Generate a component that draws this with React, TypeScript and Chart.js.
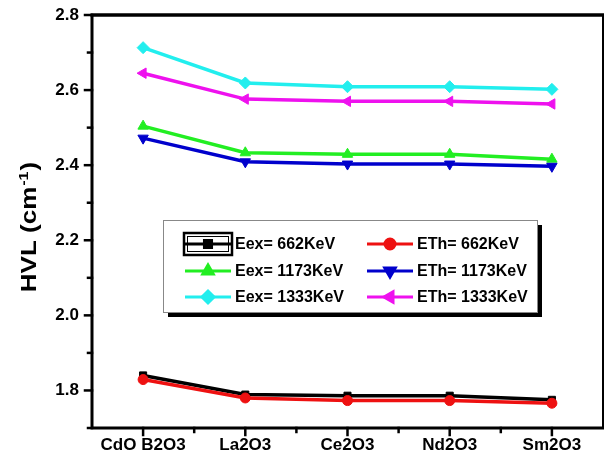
import React, { useEffect, useRef } from "react";
import { Chart, registerables } from "chart.js";
import { drawPoint } from "chart.js/helpers";

Chart.register(...registerables);

const categories = ["CdO B2O3", "La2O3", "Ce2O3", "Nd2O3", "Sm2O3"];
const eex662 = [1.840, 1.789, 1.786, 1.786, 1.775];
const eth662 = [1.829, 1.780, 1.773, 1.773, 1.766];
const eex1173 = [2.504, 2.433, 2.429, 2.429, 2.416];
const eth1173 = [2.472, 2.409, 2.403, 2.403, 2.397];
const eex1333 = [2.713, 2.619, 2.609, 2.609, 2.602];
const eth1333 = [2.645, 2.576, 2.570, 2.570, 2.563];
const yTicks = [1.8, 2.0, 2.2, 2.4, 2.6, 2.8];
const yMinorTicks = [1.7, 1.9, 2.1, 2.3, 2.5, 2.7];

const seriesLabels = [
  "Eex= 662KeV",
  "ETh= 662KeV",
  "Eex= 1173KeV",
  "ETh= 1173KeV",
  "Eex= 1333KeV",
  "ETh= 1333KeV",
];
const seriesData = [eex662, eth662, eex1173, eth1173, eex1333, eth1333];
const seriesColors = ["#000000", "#ee1111", "#22ee22", "#0000cc", "#22eeee", "#ee11ee"];
const seriesStyles = ["rect", "circle", "triangle", "triangle", "rectRot", "triangle"];
const seriesRotation = [0, 0, 0, 180, 0, -90];
const seriesRadius = [5, 5, 6, 6, 6, 6];

const FONT = "'Liberation Sans', Arial, sans-serif";

const framePlugin = {
  id: "frame",
  afterDraw(chart: any) {
    const { ctx, chartArea } = chart;
    const xs = chart.scales.x;
    const ys = chart.scales.y;
    const { left, right, top, bottom } = chartArea;
    ctx.save();
    ctx.strokeStyle = "#000";
    ctx.lineCap = "square";
    // ticks
    ctx.lineWidth = 2.5;
    yTicks.forEach((v) => {
      const p = ys.getPixelForValue(v);
      ctx.beginPath();
      ctx.moveTo(left - 7, p);
      ctx.lineTo(left, p);
      ctx.stroke();
    });
    yMinorTicks.forEach((v) => {
      const p = ys.getPixelForValue(v);
      ctx.beginPath();
      ctx.moveTo(left - 4, p);
      ctx.lineTo(left, p);
      ctx.stroke();
    });
    categories.forEach((_, i) => {
      const p = xs.getPixelForValue(i);
      ctx.beginPath();
      ctx.moveTo(p, bottom);
      ctx.lineTo(p, bottom + 7);
      ctx.stroke();
    });
    for (let i = 0; i < categories.length - 1; i++) {
      const p = (xs.getPixelForValue(i) + xs.getPixelForValue(i + 1)) / 2;
      ctx.beginPath();
      ctx.moveTo(p, bottom);
      ctx.lineTo(p, bottom + 4);
      ctx.stroke();
    }
    // frame
    ctx.lineCap = "butt";
    ctx.lineWidth = 3.5;
    ctx.beginPath();
    ctx.moveTo(left - 1.5, top);
    ctx.lineTo(right + 1, top);
    ctx.stroke();
    ctx.lineWidth = 3;
    ctx.beginPath();
    ctx.moveTo(left, top);
    ctx.lineTo(left, bottom + 1.5);
    ctx.moveTo(left - 1.5, bottom);
    ctx.lineTo(right + 1, bottom);
    ctx.stroke();
    ctx.lineWidth = 2;
    ctx.beginPath();
    ctx.moveTo(right, top);
    ctx.lineTo(right, bottom);
    ctx.stroke();

    // y title
    ctx.save();
    ctx.translate(36, 227);
    ctx.rotate(-Math.PI / 2);
    ctx.scale(1, 0.82);
    ctx.fillStyle = "#000";
    ctx.textBaseline = "alphabetic";
    ctx.textAlign = "left";
    const big = `bold 26px ${FONT}`;
    const small = `bold 16px ${FONT}`;
    ctx.font = big;
    const w1 = ctx.measureText("HVL (cm").width;
    const w3 = ctx.measureText(")").width;
    ctx.font = small;
    const w2 = ctx.measureText("-1").width;
    const total = w1 + w2 + w3 + 2;
    let x = -total / 2;
    ctx.font = big;
    ctx.fillText("HVL (cm", x, 0);
    x += w1 + 1;
    ctx.font = small;
    ctx.fillText("-1", x, -10);
    x += w2 + 1;
    ctx.font = big;
    ctx.fillText(")", x, 0);
    ctx.restore();

    // legend
    const bx = left + 71;
    const by = top + 205;
    const bw = 374;
    const bh = 92;
    ctx.fillStyle = "#000";
    ctx.fillRect(bx + 5, by + 5, bw, bh);
    ctx.fillStyle = "#fff";
    ctx.fillRect(bx, by, bw, bh);
    ctx.strokeStyle = "#888";
    ctx.lineWidth = 1;
    ctx.strokeRect(bx + 0.5, by + 0.5, bw, bh);
    const rowY = [by + 24, by + 51, by + 77];
    const colX = [bx + 22, bx + 204];
    seriesLabels.forEach((label, i) => {
      const col = i % 2;
      const row = Math.floor(i / 2);
      const x0 = colX[col];
      const y0 = rowY[row];
      ctx.strokeStyle = seriesColors[i];
      ctx.lineWidth = 3;
      ctx.beginPath();
      ctx.moveTo(x0, y0);
      ctx.lineTo(x0 + 46, y0);
      ctx.stroke();
      ctx.fillStyle = seriesColors[i];
      drawPoint(
        ctx,
        {
          pointStyle: seriesStyles[i],
          radius: seriesRadius[i],
          rotation: seriesRotation[i],
          borderWidth: 1,
        },
        x0 + 23,
        y0
      );
      ctx.fillStyle = "#000";
      ctx.font = `bold 16px ${FONT}`;
      ctx.textBaseline = "middle";
      ctx.textAlign = "left";
      ctx.fillText(label, x0 + 50, y0 + 1);
      if (i === 0) {
        ctx.strokeStyle = "#000";
        ctx.lineWidth = 2.5;
        ctx.strokeRect(x0 - 1, y0 - 11, 48, 22);
        ctx.lineWidth = 1;
        ctx.strokeRect(x0 + 2.5, y0 - 7.5, 41, 15);
      }
    });
    ctx.restore();
  },
};

export default function App() {
  const ref = useRef<HTMLCanvasElement>(null);
  useEffect(() => {
    const canvas = ref.current;
    if (!canvas) return;
    const chart = new Chart(canvas, {
      type: "line",
      data: {
        labels: categories,
        datasets: seriesData.map((d, i) => ({
          label: seriesLabels[i],
          data: d,
          borderColor: seriesColors[i],
          backgroundColor: seriesColors[i],
          borderWidth: 3.5,
          pointStyle: seriesStyles[i] as any,
          pointRotation: seriesRotation[i],
          pointRadius: seriesRadius[i],
          pointBorderWidth: 1,
          tension: 0,
          fill: false,
          order: 6 - i,
        })),
      },
      options: {
        responsive: false,
        animation: false,
        devicePixelRatio: 1,
        layout: { padding: { top: 15, right: 2, left: 0, bottom: 0 } },
        plugins: {
          legend: { display: false },
          tooltip: { enabled: false },
        },
        scales: {
          x: {
            type: "category",
            offset: true,
            grid: { display: false, drawTicks: false },
            border: { display: false },
            ticks: {
              color: "#000",
              font: { family: FONT, size: 17, weight: "bold" },
              padding: 7,
              maxRotation: 0,
              autoSkip: false,
            },
            afterFit: (s: any) => {
              s.height = 38;
              s.paddingLeft = 0;
              s.paddingRight = 0;
            },
          },
          y: {
            type: "linear",
            min: 1.7,
            max: 2.8,
            grid: { display: false, drawTicks: false },
            border: { display: false },
            afterBuildTicks: (s: any) => {
              s.ticks = yTicks.map((v) => ({ value: v }));
            },
            ticks: {
              color: "#000",
              font: { family: FONT, size: 17, weight: "bold" },
              padding: 13,
              callback: (v: any) => Number(v).toFixed(1),
            },
            afterFit: (s: any) => {
              s.width = 92;
              s.paddingTop = 0;
              s.paddingBottom = 0;
            },
          },
        },
      },
      plugins: [framePlugin],
    });
    return () => chart.destroy();
  }, []);
  return (
    <div style={{ position: "fixed", left: 0, top: 0, width: 610, height: 466, background: "#fff" }}>
      <canvas ref={ref} width={610} height={466} />
    </div>
  );
}
